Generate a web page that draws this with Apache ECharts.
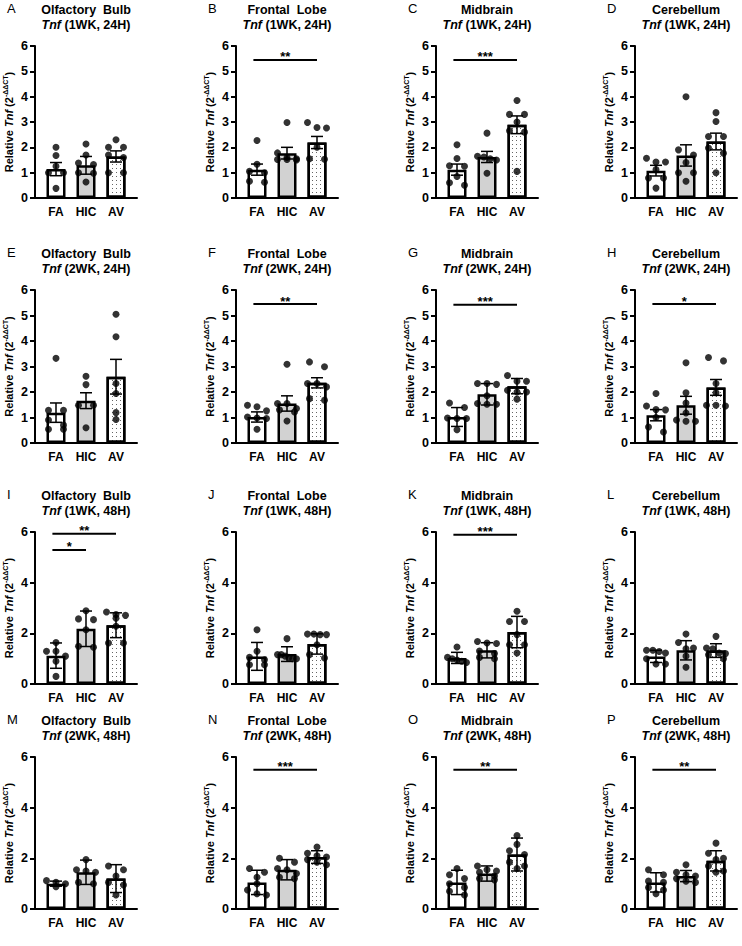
<!DOCTYPE html>
<html>
<head>
<meta charset="utf-8">
<script src="https://cdn.jsdelivr.net/npm/echarts@6/dist/echarts.min.js"></script>
<style>html,body{margin:0;padding:0;background:#fff}#chart{width:742px;height:946px}</style>
</head>
<body>
<div id="chart"></div>
<script>
// ---------- DATA ----------
const categories = ['FA', 'HIC', 'AV'];
const letters = ['A','B','C','D','E','F','G','H','I','J','K','L','M','N','O','P'];
const regions = ['Olfactory  Bulb', 'Frontal  Lobe', 'Midbrain', 'Cerebellum'];
const conditions = ['(1WK, 24H)', '(2WK, 24H)', '(1WK, 48H)', '(2WK, 48H)'];
const yTickSteps = [1, 1, 2, 2];

const barMeans = [
  [1.14, 1.29, 1.64], [1.12, 1.77, 2.19], [1.12, 1.62, 2.89], [1.08, 1.68, 2.23],
  [1.19, 1.66, 2.60], [1.02, 1.55, 2.36], [1.02, 1.91, 2.23], [1.09, 1.48, 2.18],
  [1.12, 2.18, 2.32], [1.09, 1.18, 1.58], [1.03, 1.33, 2.05], [1.09, 1.33, 1.32],
  [1.00, 1.45, 1.20], [1.05, 1.55, 2.05], [1.05, 1.40, 2.15], [1.05, 1.30, 1.90]
];
const errBars = [
  [0.26, 0.35, 0.22], [0.22, 0.23, 0.24], [0.22, 0.22, 0.35], [0.21, 0.42, 0.33],
  [0.38, 0.31, 0.68], [0.20, 0.30, 0.20], [0.37, 0.42, 0.30], [0.22, 0.35, 0.31],
  [0.50, 0.70, 0.49], [0.55, 0.29, 0.40], [0.22, 0.30, 0.62], [0.24, 0.38, 0.27],
  [0.10, 0.48, 0.55], [0.48, 0.40, 0.25], [0.48, 0.30, 0.65], [0.38, 0.22, 0.40]
];
const faPoints = [
  [2.0, 1.68, 1.25, 1.0, 1.0, 0.38],
  [2.27, 1.33, 1.05, 1.0, 0.66, 0.62],
  [2.1, 1.56, 1.27, 1.25, 0.85, 0.6, 0.5],
  [1.57, 1.42, 1.42, 1.12, 0.79, 0.79, 0.39],
  [3.32, 1.28, 1.28, 0.9, 0.7, 0.54, 0.54],
  [1.48, 1.42, 1.26, 1.02, 0.98, 0.96, 0.54],
  [1.57, 1.39, 0.98, 0.96, 0.96, 0.52],
  [1.94, 1.45, 1.31, 1.3, 1.0, 0.63, 0.43],
  [1.64, 1.29, 1.29, 1.1, 0.9, 0.3],
  [2.14, 1.29, 1.05, 0.96, 0.76, 0.76],
  [1.46, 1.05, 1.0, 0.95, 0.9, 0.85],
  [1.33, 1.33, 1.28, 1.22, 1.0, 0.79, 0.79],
  [1.12, 1.05, 1.0, 0.88],
  [1.6, 1.45, 1.25, 1.0, 0.75, 0.6, 0.55],
  [1.6, 1.35, 1.2, 1.0, 0.85, 0.7, 0.55],
  [1.55, 1.35, 1.1, 1.05, 0.85, 0.75, 0.6]
];
const hicPoints = [
  [2.13, 1.7, 1.38, 1.32, 1.0, 0.98, 0.63],
  [2.98, 1.78, 1.6, 1.55, 1.52, 1.52, 1.5],
  [2.56, 1.65, 1.62, 1.55, 1.5, 0.98],
  [4.0, 1.9, 1.7, 1.4, 1.0, 1.0, 0.66],
  [2.62, 2.29, 1.48, 1.48, 0.6],
  [3.09, 1.55, 1.55, 1.35, 1.3, 1.22, 0.86],
  [2.33, 2.33, 2.3, 1.85, 1.55, 1.52, 1.52],
  [3.15, 1.97, 1.57, 1.18, 0.9, 0.85, 0.85],
  [2.89, 2.57, 2.54, 2.14, 1.49, 1.45],
  [1.79, 1.16, 1.16, 1.1, 1.05, 1.0, 1.0],
  [1.68, 1.62, 1.6, 1.3, 1.2, 1.05, 1.0],
  [1.97, 1.64, 1.42, 1.39, 1.1, 0.66],
  [1.95, 1.55, 1.5, 1.45, 1.05, 1.0],
  [2.0, 1.85, 1.6, 1.55, 1.4, 1.25, 1.2],
  [1.7, 1.55, 1.5, 1.45, 1.3, 1.2, 1.15],
  [1.75, 1.45, 1.35, 1.3, 1.2, 1.1, 1.05]
];
const avPoints = [
  [2.3, 2.0, 2.0, 1.7, 1.6, 1.0, 1.0],
  [2.98, 2.78, 2.76, 2.0, 1.55, 1.53],
  [3.85, 3.3, 3.3, 3.0, 2.65, 2.6, 1.05],
  [3.37, 3.02, 2.43, 2.43, 1.97, 1.77, 1.0],
  [5.05, 4.17, 2.33, 1.94, 1.19, 0.92],
  [3.18, 2.99, 2.33, 2.33, 2.2, 1.74, 1.68],
  [2.65, 2.42, 2.42, 2.07, 2.0, 2.0, 1.72],
  [3.35, 3.22, 2.33, 1.97, 1.48, 1.48, 1.45],
  [2.84, 2.74, 2.71, 2.6, 2.28, 1.62, 1.62],
  [1.97, 1.97, 1.95, 1.95, 1.55, 1.16, 1.03],
  [2.87, 2.47, 2.47, 1.95, 1.55, 1.55, 1.22],
  [1.88, 1.42, 1.39, 1.22, 1.2, 1.15, 1.0],
  [1.7, 1.55, 1.3, 1.05, 0.95, 0.55],
  [2.45, 2.2, 2.1, 2.05, 1.95, 1.85, 1.75],
  [2.9, 2.55, 2.3, 2.15, 1.85, 1.7, 1.6],
  [2.6, 2.2, 2.0, 1.95, 1.7, 1.5, 1.45]
];
// significance: [fromCategory, toCategory, yValue, stars]
const sigBars = [
  [], [[0, 2, 5.45, '**']], [[0, 2, 5.45, '***']], [],
  [], [[0, 2, 5.45, '**']], [[0, 2, 5.42, '***']], [[0, 2, 5.45, '*']],
  [[0, 2, 5.93, '**'], [0, 1, 5.29, '*']], [], [[0, 2, 5.89, '***']], [],
  [], [[0, 2, 5.5, '***']], [[0, 2, 5.5, '**']], [[0, 2, 5.5, '**']]
];

// ---------- LAYOUT ----------
const FONT = '"Liberation Sans", Arial, Helvetica, sans-serif';
const colAxisX = [35, 236, 436, 635];
const rowTopY = [46, 290, 532, 757];
const rowBottomY = [198, 443, 684, 909];
const plotW = 102;      // y-axis to end of x-axis line
const xMax = 3.4;       // x units across plotW
const barOffset = 0.7;  // first bar centre in x units
const pxPerX = plotW / xMax;

function swarmOffsets(vals, pxPerY) {
  const idx = vals.map((v, i) => i).sort((a, b) => vals[b] - vals[a]);
  const offs = new Array(vals.length).fill(0);
  let k = 0;
  while (k < idx.length) {
    const start = vals[idx[k]];
    const group = [idx[k]]; k++;
    while (k < idx.length && (start - vals[idx[k]]) * pxPerY < 6) { group.push(idx[k]); k++; }
    const n = group.length;
    const sp = n === 2 ? 15 : (n > 2 ? 19 / (n - 1) : 0);
    group.forEach((g, j) => { offs[g] = (j - (n - 1) / 2) * sp; });
  }
  return offs;
}

const barStyles = [
  { color: '#ffffff' },
  { color: '#d2d2d2' },
  { color: '#ffffff', decal: { symbol: 'rect', symbolSize: 1, color: 'rgba(0,0,0,0.6)', dashArrayX: [1, 3], dashArrayY: [1, 3], rotation: 0 } }
];

const grids = [], xAxes = [], yAxes = [], titles = [], series = [];

for (let p = 0; p < 16; p++) {
  const r = Math.floor(p / 4), c = p % 4;
  const top = rowTopY[r], bottom = rowBottomY[r];
  const pxPerY = (bottom - top) / 6;
  const ax = colAxisX[c];

  grids.push({ left: ax, top: top, width: plotW, height: bottom - top });

  xAxes.push({
    gridIndex: p, type: 'value', min: 0, max: xMax, interval: 0.1,
    axisLine: { show: true, onZero: false, lineStyle: { color: '#000', width: 2 } },
    axisTick: { show: false }, splitLine: { show: false },
    axisLabel: {
      show: true, margin: 8, color: '#000', fontWeight: 'bold', fontSize: 12, fontFamily: FONT,
      formatter: function (v) {
        for (let k = 0; k < categories.length; k++) {
          if (Math.abs(v - (k + barOffset)) < 0.01) return categories[k];
        }
        return '';
      }
    }
  });

  yAxes.push({
    gridIndex: p, type: 'value', min: 0, max: 6, interval: yTickSteps[r],
    axisLine: { show: true, onZero: false, lineStyle: { color: '#000', width: 2 } },
    axisTick: { show: true, length: 5, lineStyle: { color: '#000', width: 2 } },
    splitLine: { show: false },
    axisLabel: { color: '#000', fontWeight: 'bold', fontSize: 12.5, fontFamily: FONT, margin: 7 },
    name: '{b|Relative }{i|Tnf}{b| (2}{s|-ΔΔCT}{b|)}',
    nameLocation: 'middle', nameGap: 19, nameRotate: 90,
    nameTextStyle: {
      rich: {
        b: { fontSize: 11, fontWeight: 'bold', fontFamily: FONT, color: '#000', lineHeight: 14 },
        i: { fontSize: 11, fontWeight: 'bold', fontStyle: 'italic', fontFamily: FONT, color: '#000', lineHeight: 14 },
        s: { fontSize: 7, fontWeight: 'bold', fontFamily: FONT, color: '#000', lineHeight: 14, verticalAlign: 'top' }
      }
    }
  });

  titles.push({
    text: letters[p], left: ax - 28, top: top - 44, padding: 0,
    textStyle: { fontSize: 13, fontWeight: 'normal', color: '#000', fontFamily: FONT }
  });
  titles.push({
    text: '{b|' + regions[c] + '}\n{i|Tnf}{b| ' + conditions[r] + '}',
    left: ax + 51, top: top - 44, padding: 0, textAlign: 'center',
    textStyle: {
      rich: {
        b: { fontSize: 12.5, fontWeight: 'bold', fontFamily: FONT, color: '#000', lineHeight: 15 },
        i: { fontSize: 12.5, fontWeight: 'bold', fontStyle: 'italic', fontFamily: FONT, color: '#000', lineHeight: 15 }
      }
    }
  });

  // bars
  series.push({
    type: 'bar', xAxisIndex: p, yAxisIndex: p, barWidth: 19, z: 2, silent: true,
    itemStyle: { borderColor: '#000', borderWidth: 2.5 },
    data: categories.map((cat, k) => ({ value: [k + barOffset, barMeans[p][k]], itemStyle: barStyles[k] }))
  });

  // error bars
  series.push({
    type: 'custom', xAxisIndex: p, yAxisIndex: p, z: 3, silent: true,
    data: categories.map((cat, k) => [k + barOffset, barMeans[p][k], errBars[p][k]]),
    encode: { x: 0, y: 1 },
    renderItem: function (params, api) {
      const x = api.value(0), m = api.value(1), e = api.value(2);
      const t = api.coord([x, m + e]), b = api.coord([x, m - e]);
      const hw = 6, st = { stroke: '#000', lineWidth: 1.5 };
      return {
        type: 'group', children: [
          { type: 'line', shape: { x1: t[0], y1: t[1], x2: b[0], y2: b[1] }, style: st },
          { type: 'line', shape: { x1: t[0] - hw, y1: t[1], x2: t[0] + hw, y2: t[1] }, style: st },
          { type: 'line', shape: { x1: b[0] - hw, y1: b[1], x2: b[0] + hw, y2: b[1] }, style: st }
        ]
      };
    }
  });

  // individual points
  const groups = [faPoints[p], hicPoints[p], avPoints[p]];
  const pts = [];
  groups.forEach((vals, k) => {
    const offs = swarmOffsets(vals, pxPerY);
    vals.forEach((v, j) => pts.push([k + barOffset + offs[j] / pxPerX, v]));
  });
  series.push({
    type: 'scatter', xAxisIndex: p, yAxisIndex: p, z: 4, silent: true,
    symbol: 'circle', symbolSize: 7, itemStyle: { color: '#000' }, data: pts
  });

  // significance bars
  if (sigBars[p].length) {
    const sg = sigBars[p];
    series.push({
      type: 'custom', xAxisIndex: p, yAxisIndex: p, z: 5, silent: true,
      data: sg.map(s => [s[0] + barOffset - 0.12, s[1] + barOffset, s[2]]),
      encode: { x: [0, 1], y: 2 },
      renderItem: function (params, api) {
        const a = api.coord([api.value(0), api.value(2)]);
        const b = api.coord([api.value(1), api.value(2)]);
        const label = sg[params.dataIndex][3];
        return {
          type: 'group', children: [
            { type: 'line', shape: { x1: a[0], y1: a[1], x2: b[0], y2: b[1] }, style: { stroke: '#000', lineWidth: 2 } },
            { type: 'text', style: { text: label, x: (a[0] + b[0]) / 2, y: a[1] - 3, font: 'bold 13px ' + FONT, fill: '#000',
                textAlign: 'center', textVerticalAlign: 'middle', align: 'center', verticalAlign: 'middle' } }
          ]
        };
      }
    });
  }
}

const chart = echarts.init(document.getElementById('chart'), null, { renderer: 'svg', width: 742, height: 946 });
chart.setOption({
  backgroundColor: '#ffffff',
  animation: false,
  textStyle: { fontFamily: FONT },
  title: titles,
  grid: grids,
  xAxis: xAxes,
  yAxis: yAxes,
  series: series
});
</script>
</body>
</html>
